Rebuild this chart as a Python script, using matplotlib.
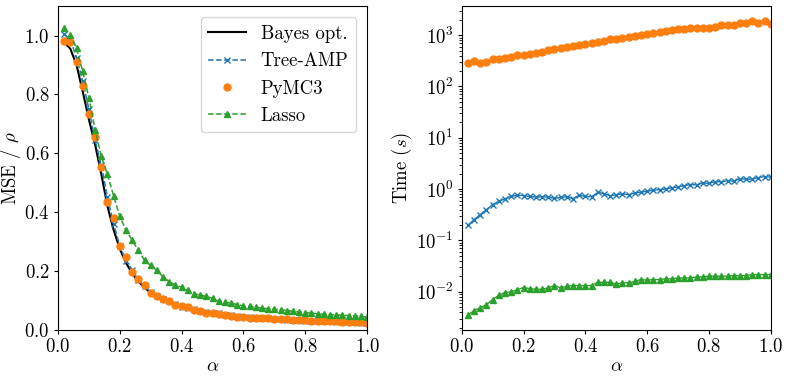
import matplotlib
matplotlib.use('Agg')
import matplotlib.pyplot as plt
import numpy as np

plt.rcParams['font.family'] = 'serif'
plt.rcParams['font.serif'] = ['cmr10']
plt.rcParams['mathtext.fontset'] = 'cm'
plt.rcParams['axes.formatter.use_mathtext'] = True
plt.rcParams['axes.unicode_minus'] = False
plt.rcParams['font.size'] = 13.5
plt.rcParams['xtick.major.size'] = 3
plt.rcParams['ytick.major.size'] = 3
plt.rcParams['xtick.major.pad'] = 3
plt.rcParams['ytick.major.pad'] = 3

# alpha grid 0.02 ... 1.00
alpha = np.round(np.arange(1, 51) * 0.02, 2)

# --- MSE / rho ---
mse_bayes = [0.978, 0.955, 0.900, 0.810, 0.715, 0.630, 0.530, 0.420, 0.340, 0.275,
             0.228, 0.192, 0.165, 0.143, 0.127, 0.114, 0.104, 0.095, 0.087, 0.080,
             0.075, 0.070, 0.066, 0.062, 0.058, 0.055, 0.052, 0.050, 0.047, 0.045,
             0.043, 0.041, 0.040, 0.038, 0.037, 0.035, 0.034, 0.033, 0.032, 0.031,
             0.030, 0.029, 0.028, 0.028, 0.027, 0.026, 0.025, 0.025, 0.024, 0.023]
mse_tree = [1.005, 0.985, 0.925, 0.845, 0.750, 0.645, 0.560, 0.450, 0.360, 0.285,
            0.235, 0.205, 0.168, 0.148, 0.130, 0.116, 0.105, 0.097, 0.088, 0.079,
            0.075, 0.071, 0.066, 0.062, 0.058, 0.056, 0.052, 0.050, 0.047, 0.045,
            0.044, 0.042, 0.040, 0.039, 0.037, 0.036, 0.035, 0.034, 0.033, 0.032,
            0.031, 0.030, 0.029, 0.029, 0.028, 0.027, 0.026, 0.026, 0.025, 0.024]
mse_pymc = [0.983, 0.977, 0.911, 0.827, 0.735, 0.656, 0.555, 0.435, 0.380, 0.284,
            0.249, 0.197, 0.174, 0.151, 0.127, 0.114, 0.106, 0.097, 0.085, 0.080,
            0.077, 0.068, 0.065, 0.059, 0.057, 0.053, 0.051, 0.048, 0.045, 0.043,
            0.042, 0.041, 0.040, 0.039, 0.038, 0.037, 0.036, 0.035, 0.034, 0.033,
            0.032, 0.031, 0.031, 0.030, 0.029, 0.028, 0.027, 0.027, 0.026, 0.025]
mse_lasso = [1.026, 1.003, 0.957, 0.878, 0.788, 0.680, 0.591, 0.528, 0.455, 0.386,
             0.338, 0.305, 0.270, 0.236, 0.219, 0.202, 0.180, 0.164, 0.152, 0.145,
             0.134, 0.123, 0.118, 0.114, 0.107, 0.098, 0.095, 0.091, 0.086, 0.082,
             0.080, 0.077, 0.074, 0.072, 0.070, 0.069, 0.066, 0.063, 0.061, 0.059,
             0.057, 0.055, 0.053, 0.052, 0.051, 0.050, 0.049, 0.048, 0.046, 0.044]

# --- Time (s) ---
t_tree = [0.198, 0.255, 0.320, 0.400, 0.500, 0.580, 0.650, 0.720, 0.760, 0.750,
          0.720, 0.700, 0.710, 0.700, 0.660, 0.690, 0.710, 0.650, 0.760, 0.720,
          0.710, 0.860, 0.820, 0.740, 0.780, 0.810, 0.780, 0.840, 0.870, 0.910,
          0.950, 0.980, 1.010, 1.060, 1.110, 1.170, 1.230, 1.210, 1.320, 1.300,
          1.400, 1.380, 1.470, 1.430, 1.600, 1.560, 1.580, 1.680, 1.750, 1.720]
t_pymc = [281, 312, 289, 298, 346, 336, 362, 373, 402, 408,
          434, 453, 467, 503, 542, 568, 585, 603, 630, 668,
          700, 743, 777, 824, 849, 889, 916, 973, 1000, 1032,
          1112, 1163, 1217, 1273, 1291, 1331, 1351, 1371, 1392, 1392,
          1435, 1546, 1593, 1569, 1691, 1743, 1877, 1743, 1905, 1667]
t_lasso = [0.00349, 0.00431, 0.00485, 0.00564, 0.00706, 0.00855, 0.00964, 0.00993, 0.0110, 0.0121,
           0.0115, 0.0112, 0.0112, 0.0119, 0.0132, 0.0119, 0.0128, 0.0132, 0.0132, 0.0132,
           0.0132, 0.0153, 0.0153, 0.0153, 0.0142, 0.0149, 0.0149, 0.0160, 0.0173, 0.0168,
           0.0173, 0.0173, 0.0178, 0.0178, 0.0186, 0.0186, 0.0186, 0.0195, 0.0195, 0.0201,
           0.0201, 0.0201, 0.0201, 0.0207, 0.0207, 0.0207, 0.0216, 0.0216, 0.0216, 0.0216]

blue, orange, green = 'tab:blue', 'tab:orange', 'tab:green'

fig, (ax1, ax2) = plt.subplots(1, 2, figsize=(7.89, 3.81), dpi=100)
fig.subplots_adjust(left=0.0735, right=0.977, bottom=0.134, top=0.984, wspace=0.306)

# left: MSE
ax1.plot(alpha, mse_bayes, color='black', lw=1.5, label='Bayes opt.')
ax1.plot(alpha, mse_tree, '--x', color=blue, lw=1.1, ms=4, label='Tree-AMP')
ax1.plot(alpha, mse_pymc, 'o', color=orange, ms=5, label='PyMC3')
ax1.plot(alpha, mse_lasso, '--^', color=green, lw=1.1, ms=4.5, label='Lasso')
ax1.set_xlim(0, 1)
ax1.set_ylim(0, 1.1)
ax1.set_xlabel(r'$\alpha$', labelpad=1)
ax1.set_ylabel(r'MSE / $\rho$', labelpad=1)
ax1.legend(loc='upper right', borderaxespad=0.6)

# right: time
ax2.plot(alpha, t_tree, '-x', color=blue, lw=1, ms=4)
ax2.plot(alpha, t_pymc, 'o', color=orange, ms=5)
ax2.plot(alpha, t_lasso, '-^', color=green, lw=1, ms=4.5)
ax2.set_yscale('log')
ax2.set_xlim(0, 1)
ax2.set_xlabel(r'$\alpha$', labelpad=1)
ax2.set_ylabel(r'Time ($s$)', labelpad=1)

plt.savefig('out.png', dpi=100)
